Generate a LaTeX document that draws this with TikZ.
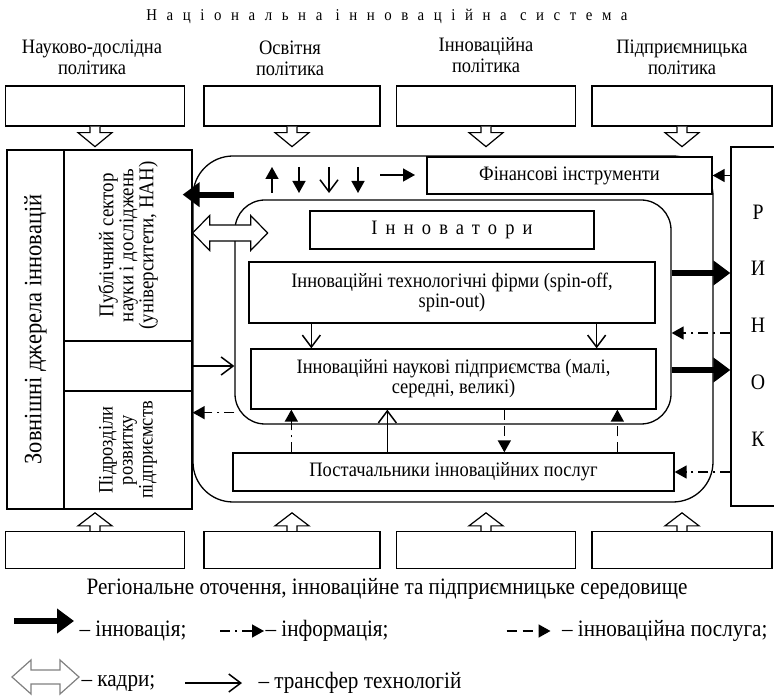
\documentclass[tikz,border=0pt]{standalone}
\usepackage{fontspec}
\setmainfont{Liberation Serif}[FakeStretch=0.9]
\newfontfamily\spacedfont{Liberation Serif}[FakeStretch=0.9,LetterSpace=40]
\newfontfamily\titlefont{Liberation Serif}[FakeStretch=0.9,LetterSpace=58]
\usetikzlibrary{arrows.meta,positioning}

\tikzset{
  box/.style={draw, line width=1.3pt, inner sep=2pt, align=center, fill=white},
  roundbox/.style={draw, line width=1.3pt, inner sep=0pt},
  inn/.style={line width=6pt, -{Triangle[length=17pt,width=24pt]}},
  infoarr/.style={line width=1.5pt, dash pattern=on 10pt off 5pt on 2pt off 5pt, -{Triangle[length=12pt,width=13pt]}},
  servarr/.style={line width=1.5pt, dash pattern=on 10pt off 6pt, -{Triangle[length=12pt,width=13pt]}},
  transf/.style={line width=1.5pt, -{Straight Barb[length=12pt,width=18pt]}},
  flow/.style={line width=1.5pt, -{Triangle[length=12pt,width=13pt]}},
  hollow/.style={draw, line width=1.2pt, fill=white, line join=miter},
  vtext/.style={rotate=90, align=center}
}

\begin{document}
\begin{tikzpicture}[x=1pt,y=-1pt,font=\fontsize{20.5}{20}\selectfont]
    \useasboundingbox (0,0) rectangle (774,700);

    % title and policies
    \node (title) at (387,16) {\titlefont\fontsize{16.5}{18}\selectfont Національна інноваційна система};
    \node[align=center, font=\fontsize{20.5}{21}\selectfont] (lab1) at (92,57) {Науково-дослідна\\політика};
    \node[align=center, font=\fontsize{20.5}{21}\selectfont] (lab2) at (290,58) {Освітня\\політика};
    \node[align=center, font=\fontsize{20.5}{21}\selectfont] (lab3) at (486,55) {Інноваційна\\політика};
    \node[align=center, font=\fontsize{20.5}{21}\selectfont] (lab4) at (682,57) {Підприємницька\\політика};

    \node[box, minimum width=179, minimum height=40] (pol1) at (95,106) {};
    \node[box, minimum width=176, minimum height=40] (pol2) at (292,106) {};
    \node[box, minimum width=179, minimum height=40] (pol3) at (486,106) {};
    \node[box, minimum width=180, minimum height=40] (pol4) at (682,106) {};

    \node[box, minimum width=179, minimum height=37] (env1) at (95,550) {};
    \node[box, minimum width=176, minimum height=37] (env2) at (292,550) {};
    \node[box, minimum width=179, minimum height=37] (env3) at (486,550) {};
    \node[box, minimum width=180, minimum height=37] (env4) at (682,550) {};

    % hollow arrows down and up
    \foreach \n in {pol1,pol2,pol3,pol4}
        \draw[hollow] (\n.south) ++(-5,0) -- ++(0,6) -- ++(-12,0) -- ++(17,14)
            -- ++(17,-14) -- ++(-12,0) -- ++(0,-6);
    \foreach \n in {env1,env2,env3,env4}
        \draw[hollow] (\n.north) ++(-5,0) -- ++(0,-5) -- ++(-12,0) -- ++(17,-13)
            -- ++(17,13) -- ++(-12,0) -- ++(0,5);

    % external sources
    \node[box, minimum width=57, minimum height=359] (ext) at (35.5,329.5) {};
    \node[vtext, font=\fontsize{25}{26}\selectfont] at (ext) {Зовнішні джерела інновацій};
    \node[box, minimum width=128, minimum height=191] (pub) at (128,245.5) {};
    \node[vtext, font=\fontsize{21}{20}\selectfont] at (pub) {Публічний сектор\\науки і досліджень\\(університети, НАН)};
    \node[box, minimum width=128, minimum height=50] (mid) at (128,366) {};
    \node[box, minimum width=128, minimum height=118] (sub) at (128,450) {};
    \node[vtext, font=\fontsize{20.5}{20}\selectfont] at (sub) {Підрозділи\\розвитку\\підприємств};

    % market
    \node[box, minimum width=70, minimum height=359] (market) at (766,326.5) {};
    \foreach \l [count=\i from 0] in {Р,И,Н,О,К}
        \node[font=\fontsize{22}{22}\selectfont] at (758,212+56.75*\i) {\l};

    % system contour
    \node[roundbox, rounded corners=40, minimum width=520, minimum height=346] (outer) at (453,329) {};
    \node[box, minimum width=285, minimum height=37] (fin) at (569.5,175.5) {Фінансові інструменти};
    \node[roundbox, rounded corners=30, minimum width=436, minimum height=224] (inner) at (453,312) {};

    \node[box, minimum width=284, minimum height=38] (innov) at (452,230) {\spacedfont Інноватори};
    \node[box, minimum width=406, minimum height=61] (tech) at (452,292.5)
        {Інноваційні технологічні фірми (spin-off,\\spin-out)};
    \node[box, minimum width=405, minimum height=60] (sci) at (453.5,379)
        {Інноваційні наукові підприємства (малі,\\середні, великі)};
    \node[box, minimum width=441, minimum height=38] (supp) at (453.5,472) {Постачальники інноваційних послуг};

    % flows in the upper band
    \draw[flow] (272,193) -- (272,167);
    \draw[flow] (299,167) -- (299,193);
    \draw[transf] (329,167) -- (329,193);
    \draw[flow] (358,167) -- (358,193);
    \draw[flow] (380,175) -- (415,175);

    % left side
    \draw[inn] (inner.west |- fin.south) -- ([xshift=-10pt]pub.east |- fin.south);
    \draw[hollow] (pub.east |- 0,233) -- ++(17,-17.5) -- ++(0,9.5) -- ++(41,0) -- ++(0,-9.5)
        -- ++(17,17.5) -- ++(-17,17.5) -- ++(0,-9.5) -- ++(-41,0) -- ++(0,9.5) -- cycle;
    \draw[transf] (mid.east) -- (mid.east -| inner.west);
    \draw[infoarr] ([yshift=12pt]inner.south west) -- ([yshift=12pt]inner.south west -| sub.east);

    % inside
    \draw[transf] ([xshift=63pt]tech.south west) -- ([xshift=63pt]tech.south west |- sci.north);
    \draw[transf] ([xshift=-59pt]tech.south east) -- ([xshift=-59pt]tech.south east |- sci.north);
    \draw[infoarr] ([xshift=59pt]supp.north west) -- ([xshift=59pt]supp.north west |- sci.south);
    \draw[transf] ([xshift=155pt]supp.north west) -- ([xshift=155pt]supp.north west |- sci.south);
    \draw[servarr] ([xshift=272pt]supp.north west |- sci.south) -- ([xshift=272pt]supp.north west);
    \draw[servarr] ([xshift=385pt]supp.north west) -- ([xshift=385pt]supp.north west |- sci.south);

    % right side
    \draw[flow] (market.west |- fin) -- (fin.east);
    \draw[inn] (inner.east |- 0,273) -- (market.west |- 0,273);
    \draw[infoarr] (market.west |- 0,333) -- (inner.east |- 0,333);
    \draw[inn] (inner.east |- 0,370) -- (market.west |- 0,370);
    \draw[infoarr] (market.west |- supp) -- (supp.east);

    % environment and legend
    \begin{scope}[font=\fontsize{23.5}{24}\selectfont]
        \node (region) at (387,589) {Регіональне оточення, інноваційне та підприємницьке середовище};
        \node[anchor=west] (lg1) at (76,631) {– інновація;};
        \node[anchor=west] (lg2) at (262,631) {– інформація;};
        \node[anchor=east] (lg3) at (771,631) {– інноваційна послуга;};
        \node[anchor=west] (lg4) at (78,683) {– кадри;};
        \node[anchor=west] (lg5) at (255,683) {– трансфер технологій};
    \end{scope}
    \draw[inn] (14,621) -- ([xshift=-2pt]lg1.west |- 0,621);
    \draw[infoarr] ([xshift=-42pt]lg2.west) -- ([xshift=2pt]lg2.west);
    \draw[servarr] ([xshift=-52pt]lg3.west) -- ([xshift=-8pt]lg3.west);
    \draw[transf] ([xshift=-70pt]lg5.west) -- ([xshift=-13pt]lg5.west);
    \draw[hollow, draw=gray] (12,677) -- ++(19,-17) -- ++(0,10) -- ++(29,0) -- ++(0,-10)
        -- ++(19,17) -- ++(-19,17) -- ++(0,-10) -- ++(-29,0) -- ++(0,10) -- cycle;
\end{tikzpicture}
\end{document}
